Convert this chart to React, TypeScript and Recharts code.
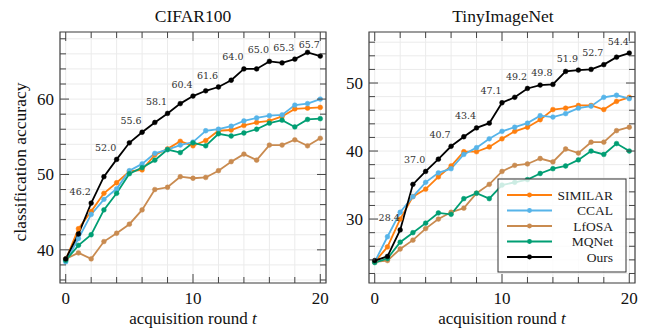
import { LineChart, Line, XAxis, YAxis, CartesianGrid, ReferenceArea, LabelList } from 'recharts';

// x: acquisition round
const rounds = [0, 1, 2, 3, 4, 5, 6, 7, 8, 9, 10, 11, 12, 13, 14, 15, 16, 17, 18, 19, 20];
const xTicks = [0, 2, 4, 6, 8, 10, 12, 14, 16, 18, 20];
const labeledRounds = [2, 4, 6, 8, 10, 12, 14, 16, 18, 20];

const methods = ['SIMILAR', 'CCAL', 'LfOSA', 'MQNet', 'Ours'];

// Colors per method
const COLORS: Record<string, string> = {
  SIMILAR: '#ff7f0e',
  CCAL: '#56b4e9',
  LfOSA: '#c98b50',
  MQNet: '#009e73',
  Ours: '#000000',
};

// CIFAR100
const cifarSimilar = [38.7, 42.8, 45.1, 47.5, 48.9, 50.4, 50.6, 52.6, 53.4, 54.4, 53.8, 54.5, 55.8, 55.9, 56.5, 56.9, 57.1, 57.7, 58.7, 58.8, 58.9];
const cifarCcal = [38.4, 41.5, 44.7, 46.7, 48.1, 50.5, 51.4, 52.8, 53.3, 53.9, 54.3, 55.8, 56.0, 56.4, 57.1, 57.5, 57.8, 57.9, 59.2, 59.4, 60.0];
const cifarLfosa = [38.8, 39.6, 38.8, 41.1, 42.2, 43.4, 45.3, 48.0, 48.3, 49.7, 49.5, 49.6, 50.5, 51.7, 52.7, 51.9, 53.9, 53.9, 54.6, 53.8, 54.8];
const cifarMqnet = [38.6, 40.6, 42.0, 45.3, 47.5, 50.1, 50.9, 51.9, 53.3, 52.9, 54.2, 53.8, 55.4, 55.1, 55.5, 56.0, 56.8, 57.2, 56.3, 57.3, 57.4];
const cifarOurs = [38.8, 42.1, 46.2, 49.7, 52.0, 54.2, 55.6, 56.9, 58.1, 59.4, 60.4, 61.1, 61.6, 62.5, 64.0, 64.0, 65.0, 64.8, 65.3, 66.2, 65.7];
const cifarYTicks = [36, 38, 40, 42, 44, 46, 48, 50, 52, 54, 56, 58, 60, 62, 64, 66, 68];

// TinyImageNet
const tinySimilar = [23.7, 25.9, 30.0, 33.3, 34.4, 36.2, 37.8, 39.9, 39.9, 40.6, 41.8, 42.9, 43.5, 44.6, 46.1, 46.3, 46.7, 46.7, 46.1, 47.3, 47.9];
const tinyCcal = [23.7, 27.4, 31.0, 33.3, 35.4, 36.8, 37.4, 39.5, 40.5, 41.8, 42.9, 43.5, 44.1, 45.2, 45.0, 45.5, 46.3, 46.6, 47.9, 48.2, 47.7];
const tinyLfosa = [23.7, 23.9, 25.6, 26.9, 28.6, 30.0, 31.0, 31.6, 33.8, 35.1, 37.0, 37.9, 38.1, 38.9, 38.4, 40.3, 39.7, 41.3, 41.3, 43.0, 43.5];
const tinyMqnet = [23.6, 24.2, 26.6, 28.0, 29.4, 30.9, 30.7, 33.0, 33.8, 33.0, 35.0, 35.4, 35.8, 36.7, 37.4, 37.8, 38.7, 40.0, 39.5, 41.1, 40.0];
const tinyOurs = [23.9, 24.5, 28.4, 35.1, 37.0, 38.8, 40.7, 42.1, 43.4, 44.1, 47.1, 47.9, 49.2, 49.7, 49.8, 51.7, 51.9, 52.0, 52.7, 53.8, 54.4];
const tinyYTicks = [22, 24, 26, 28, 30, 32, 34, 36, 38, 40, 42, 44, 46, 48, 50, 52, 54, 56];

const SERIF = '"Liberation Serif", "DejaVu Serif", serif';
const FRAME = '#444';
const H = 330;

function buildRows(series: number[][]) {
  return rounds.map((t, i) => {
    const row: Record<string, number> = { t };
    methods.forEach((m, k) => {
      row[m] = series[k][i];
    });
    return row;
  });
}

interface PanelProps {
  width: number;
  // plot area box in chart coords
  plot: { left: number; right: number; top: number; bottom: number };
  series: number[][];
  yDomain: [number, number];
  yTicks: number[];
}

function Panel({ width, plot, series, yDomain, yTicks }: PanelProps) {
  const data = buildRows(series);
  const { top, bottom, left, right } = plot;
  const xDomain: [number, number] = [-0.45, 20.45];
  // axes take 1px each, so shave it off the margins
  const margin = { top, right: width - right, bottom: H - bottom - 1, left: left - 1 };

  const xTick = (p: any) => {
    const v = p.payload.value;
    const major = v % 10 === 0;
    const len = major ? 9 : 6;
    return (
      <g>
        <line x1={p.x} y1={bottom} x2={p.x} y2={bottom - len} stroke={FRAME} />
        <line x1={p.x} y1={top} x2={p.x} y2={top + len} stroke={FRAME} />
        {major && (
          <text x={p.x} y={bottom + 21} textAnchor="middle" fontSize={17} fontFamily={SERIF} fill="#111">
            {v}
          </text>
        )}
      </g>
    );
  };

  const yTick = (p: any) => {
    const v = p.payload.value;
    const major = v % 10 === 0;
    const len = major ? 9 : 6;
    return (
      <g>
        <line x1={left} y1={p.y} x2={left + len} y2={p.y} stroke={FRAME} />
        <line x1={right} y1={p.y} x2={right - len} y2={p.y} stroke={FRAME} />
        {major && (
          <text x={left - 6} y={p.y + 6} textAnchor="end" fontSize={17} fontFamily={SERIF} fill="#111">
            {v}
          </text>
        )}
      </g>
    );
  };

  const oursLabel = (p: any) => {
    if (!labeledRounds.includes(p.index)) return null;
    return (
      <text x={p.x - 11} y={p.y - 8.5} textAnchor="middle" fontSize={9.5} fontFamily='"DejaVu Serif", serif' fill="#333">
        {Number(p.value).toFixed(1)}
      </text>
    );
  };

  return (
    <LineChart width={width} height={H} data={data} margin={margin}>
      <CartesianGrid stroke="#ebebeb" />
      <XAxis
        dataKey="t"
        type="number"
        domain={xDomain}
        ticks={xTicks}
        interval={0}
        height={1}
        tickSize={0}
        tickMargin={0}
        tickLine={false}
        axisLine={false}
        tick={xTick}
        allowDataOverflow
      />
      <YAxis
        type="number"
        domain={yDomain}
        ticks={yTicks}
        interval={0}
        width={1}
        tickSize={0}
        tickMargin={0}
        tickLine={false}
        axisLine={false}
        tick={yTick}
        allowDataOverflow
      />
      <ReferenceArea x1={xDomain[0]} x2={xDomain[1]} y1={yDomain[0]} y2={yDomain[1]} fill="none" stroke={FRAME} strokeWidth={1.2} />
      {methods.map((m) => (
        <Line
          key={m}
          dataKey={m}
          stroke={COLORS[m]}
          strokeWidth={1.8}
          dot={{ r: 2.4, fill: COLORS[m], stroke: COLORS[m], strokeWidth: 0.5 }}
          activeDot={false}
          isAnimationActive={false}
        >
          {m === 'Ours' && <LabelList dataKey={m} content={oursLabel} />}
        </Line>
      ))}
    </LineChart>
  );
}

export default function App() {
  const legendY = (i: number) => 195 + i * 15.5;
  return (
    <div style={{ position: 'absolute', left: 0, top: 0, width: 649, height: H, background: '#fff' }}>
      <div style={{ position: 'absolute', left: 0, top: 0 }}>
        <Panel
          width={340}
          plot={{ left: 60, right: 326, top: 32, bottom: 283 }}
          series={[cifarSimilar, cifarCcal, cifarLfosa, cifarMqnet, cifarOurs]}
          yDomain={[35.6, 68.9]}
          yTicks={cifarYTicks}
        />
      </div>
      <div style={{ position: 'absolute', left: 340, top: 0 }}>
        <Panel
          width={309}
          plot={{ left: 29, right: 295, top: 32, bottom: 283 }}
          series={[tinySimilar, tinyCcal, tinyLfosa, tinyMqnet, tinyOurs]}
          yDomain={[20.6, 57.5]}
          yTicks={tinyYTicks}
        />
      </div>
      <svg width={649} height={H} style={{ position: 'absolute', left: 0, top: 0, pointerEvents: 'none' }}>
        <g fontFamily={SERIF} fill="#111">
          <text x={193} y={22} textAnchor="middle" fontSize={17.5}>CIFAR100</text>
          <text x={503} y={22} textAnchor="middle" fontSize={17.5}>TinyImageNet</text>
          <text x={193} y={324} textAnchor="middle" fontSize={17}>
            acquisition round <tspan fontStyle="italic">t</tspan>
          </text>
          <text x={502} y={324} textAnchor="middle" fontSize={17}>
            acquisition round <tspan fontStyle="italic">t</tspan>
          </text>
          <text x={26} y={162} textAnchor="middle" fontSize={17.5} transform="rotate(-90, 26, 162)">
            classification accuracy
          </text>
        </g>
        <rect x={498} y={179} width={128} height={93} fill="#fff" fillOpacity={0.8} stroke="#333" strokeWidth={1} />
        {methods.map((m, i) => (
          <g key={m}>
            <line x1={507} y1={legendY(i)} x2={552} y2={legendY(i)} stroke={COLORS[m]} strokeWidth={1.8} />
            <circle cx={529.5} cy={legendY(i)} r={2.4} fill={COLORS[m]} />
            <text x={613} y={legendY(i) + 4.5} textAnchor="end" fontSize={13.5} fontFamily={SERIF} fill="#222">
              {m}
            </text>
          </g>
        ))}
      </svg>
    </div>
  );
}
